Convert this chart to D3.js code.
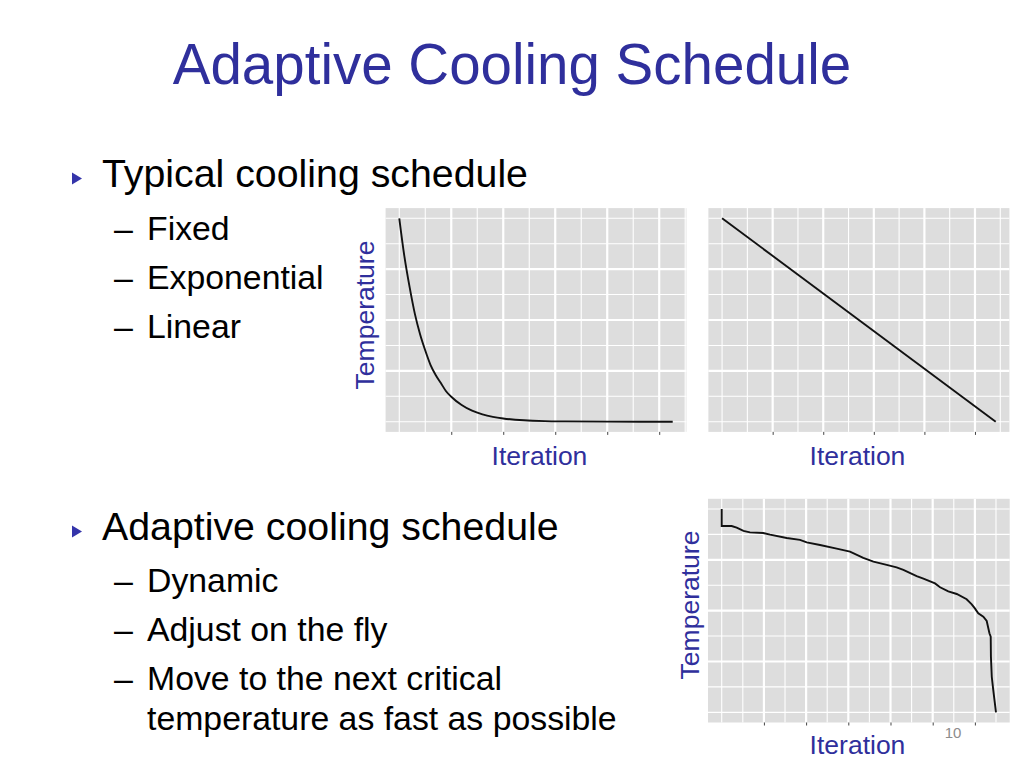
<!DOCTYPE html>
<html>
<head>
<meta charset="utf-8">
<script src="https://cdn.jsdelivr.net/npm/d3@7"></script>
<style>
  body { margin: 0; background: #fff; }
  svg { display: block; font-family: "Liberation Sans", Arial, sans-serif; }
</style>
</head>
<body>
<svg id="slide" width="1024" height="768"></svg>
<script>
// values (temperature in % of the start value)
var expIter = [0, 2, 4, 6, 8, 10, 12, 14, 16, 18, 20, 24, 28, 32, 36, 40, 48, 56, 64, 80, 105.2],
  expTemp = [100, 81, 66, 53, 43, 35, 28, 23, 19, 15, 12.3, 8.2, 5.4, 3.6, 2.4, 1.6, 0.7, 0.3, 0.15, 0.03, 0];

var linIter = [0, 108.2],
  linTemp = [100, 0];

var adaIter = [0, 0, 0.47, 0.71, 1.03, 1.34, 1.97, 2.29, 3.08, 3.71, 4.03, 4.66, 5.45, 6.08, 6.71, 7.19,
  7.82, 8.29, 8.61, 9.24, 9.56, 10.11, 10.35, 10.74, 11.14, 11.61, 11.85, 12.0, 12.16, 12.4, 12.56,
  12.69, 12.75, 12.76, 12.8, 12.87, 13.0],
  adaTemp = [100, 91.6, 91.6, 90.8, 89.2, 88.5, 88.2, 87.4, 85.7, 84.8, 83.6, 82.3, 80.5, 79.0, 75.9, 74.1,
  72.5, 71.3, 70.0, 67.0, 65.7, 63.4, 61.5, 59.5, 58.2, 55.6, 53.1, 51.1, 48.7, 47.0, 44.9,
  38.9, 37.2, 27.4, 17.5, 11.0, 0];

// grid breaks
var xMajorA = [20, 40, 60, 80, 100],
  xMinorA = [0, 10, 30, 50, 70, 90, 110],
  xMajorB = [2, 4, 6, 8, 10, 12],
  xMinorB = [0, 1, 3, 5, 7, 9, 11, 13],
  yMajor = [25, 50, 75],
  yMinor = [0, 12.5, 37.5, 62.5, 87.5, 100];

var titleText = "Adaptive Cooling Schedule",
  bullets = ["Typical cooling schedule", "Adaptive cooling schedule"],
  subItems1 = ["Fixed", "Exponential", "Linear"],
  subItems2 = ["Dynamic", "Adjust on the fly", "Move to the next critical"],
  subCont = "temperature as fast as possible";

var svg = d3.select("#slide");
var blue = "#2f2f9c";

svg.append("rect").attr("width", 1024).attr("height", 768).attr("fill", "#fff");

// title
svg.append("text")
  .attr("x", 512).attr("y", 84)
  .attr("text-anchor", "middle")
  .attr("font-size", 56.5)
  .attr("fill", blue)
  .text(titleText);

// bullets
function bullet(y, label) {
  svg.append("path")
    .attr("d", "M72," + (y - 6) + "L82," + y + "L72," + (y + 6) + "Z")
    .attr("fill", "#3434aa");
  svg.append("text")
    .attr("x", 102).attr("y", y + 8.5)
    .attr("font-size", 39.3)
    .attr("fill", "#000")
    .text(label);
}
function sub(y, label, dash) {
  if (dash) {
    svg.append("text").attr("x", 114).attr("y", y)
      .attr("font-size", 34).text("\u2013");
  }
  svg.append("text").attr("x", 147).attr("y", y)
    .attr("font-size", 33.8).text(label);
}

bullet(178.5, bullets[0]);
subItems1.forEach(function (s, i) { sub(239.5 + i * 49, s, true); });
bullet(531.5, bullets[1]);
subItems2.forEach(function (s, i) { sub(591.5 + i * 49, s, true); });
sub(729.5, subCont, false);

// ggplot-like panel
function panel(box, iter, temp, xMajor, xMinor) {
  var g = svg.append("g");
  var xe = d3.extent(iter), ye = d3.extent(temp);
  var xp = (xe[1] - xe[0]) * 0.05, yp = (ye[1] - ye[0]) * 0.05;

  var x = d3.scaleLinear().domain([xe[0] - xp, xe[1] + xp]).range([box.left, box.right]);
  var y = d3.scaleLinear().domain([ye[0] - yp, ye[1] + yp]).range([box.bottom, box.top]);

  g.append("rect")
    .attr("x", box.left).attr("y", box.top)
    .attr("width", box.right - box.left).attr("height", box.bottom - box.top)
    .attr("fill", "#dddddd");

  g.selectAll(".vminor").data(xMinor).enter().append("line")
    .attr("x1", x).attr("x2", x).attr("y1", box.top).attr("y2", box.bottom)
    .attr("stroke", "#fff").attr("stroke-width", 1.1);
  g.selectAll(".hminor").data(yMinor).enter().append("line")
    .attr("y1", y).attr("y2", y).attr("x1", box.left).attr("x2", box.right)
    .attr("stroke", "#fff").attr("stroke-width", 1.1);
  g.selectAll(".vmajor").data(xMajor).enter().append("line")
    .attr("x1", x).attr("x2", x).attr("y1", box.top).attr("y2", box.bottom)
    .attr("stroke", "#fff").attr("stroke-width", 2.2);
  g.selectAll(".hmajor").data(yMajor).enter().append("line")
    .attr("y1", y).attr("y2", y).attr("x1", box.left).attr("x2", box.right)
    .attr("stroke", "#fff").attr("stroke-width", 2.2);

  var ax = g.append("g")
    .attr("transform", "translate(0," + box.bottom + ")")
    .call(d3.axisBottom(x).tickValues(xMajor).tickSize(3).tickFormat(""));
  ax.select(".domain").remove();
  ax.selectAll(".tick line").attr("stroke", "#444");

  var line = d3.line()
    .x(function (d) { return x(d[0]); })
    .y(function (d) { return y(d[1]); })
    .curve(box.smooth ? d3.curveMonotoneX : d3.curveLinear);

  g.append("path")
    .datum(d3.zip(iter, temp))
    .attr("d", line)
    .attr("fill", "none")
    .attr("stroke", "#111")
    .attr("stroke-width", 1.9);
  return g;
}

panel({ left: 385.6, right: 686.4, top: 208.1, bottom: 431.9, smooth: true }, expIter, expTemp, xMajorA, xMinorA);
panel({ left: 708.4, right: 1009.4, top: 208.1, bottom: 431.9 }, linIter, linTemp, xMajorA, xMinorA);
panel({ left: 708, right: 1009.7, top: 498.8, bottom: 722.5 }, adaIter, adaTemp, xMajorB, xMinorB);

// axis titles
function yTitle(x, cy) {
  svg.append("text")
    .attr("transform", "translate(" + x + "," + cy + ") rotate(-90)")
    .attr("text-anchor", "middle")
    .attr("font-size", 26.5)
    .attr("fill", blue)
    .text("Temperature");
}
function xTitle(cx, y) {
  svg.append("text")
    .attr("x", cx).attr("y", y)
    .attr("text-anchor", "middle")
    .attr("font-size", 26.5)
    .attr("fill", blue)
    .text("Iteration");
}
yTitle(374, 315);
yTitle(699, 605);
xTitle(539.5, 464.5);
xTitle(857.5, 464.5);
xTitle(857.5, 754);

// slide number
svg.append("text")
  .attr("x", 953).attr("y", 737.5)
  .attr("text-anchor", "middle")
  .attr("font-size", 15)
  .attr("fill", "#8c8c8c")
  .text("10");
</script>
</body>
</html>
